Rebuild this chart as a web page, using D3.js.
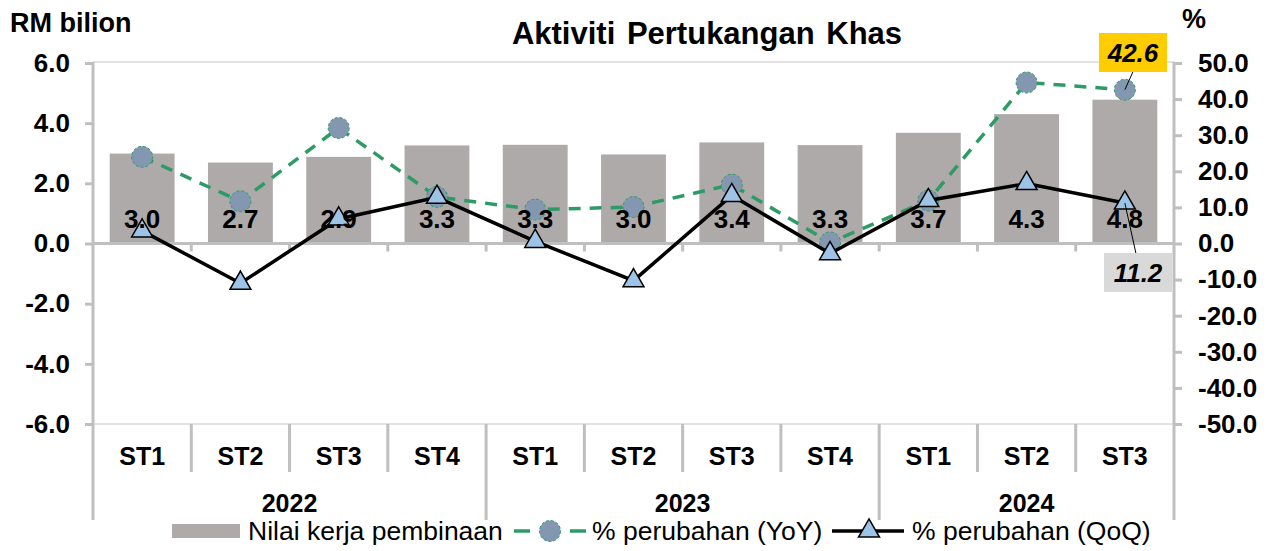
<!DOCTYPE html>
<html>
<head>
<meta charset="utf-8">
<script src="https://cdn.jsdelivr.net/npm/d3@7"></script>
<style>
  body { margin: 0; background: #fff; }
  svg { font-family: "Liberation Sans", Arial, sans-serif; }
</style>
</head>
<body>
<script>
// chart data
const quarters = ["ST1", "ST2", "ST3", "ST4", "ST1", "ST2", "ST3", "ST4", "ST1", "ST2", "ST3"];
const years = ["2022", "2023", "2024"];
const quartersPerYear = [4, 4, 3];
const nilai = [2.99, 2.69, 2.88, 3.26, 3.28, 2.96, 3.36, 3.27, 3.68, 4.3, 4.78];
const yoy = [24.0, 11.7, 32.0, 12.9, 9.4, 10.1, 16.3, 0.3, 11.9, 44.6, 42.6];
const qoq = [3.5, -11.0, 6.8, 12.8, 0.6, -10.3, 13.3, -2.8, 11.9, 16.6, 11.2];
const leftTicks = [-6, -4, -2, 0, 2, 4, 6];
const rightTicks = [-50, -40, -30, -20, -10, 0, 10, 20, 30, 40, 50];

const W = 1277, H = 551;
const plot = { left: 93, right: 1174, top: 63, bottom: 424 };
const axisGrey = "#bfbfbf";

const svg = d3.select("body").append("svg")
    .attr("width", W)
    .attr("height", H);

const x = d3.scaleBand()
    .domain(d3.range(quarters.length))
    .range([plot.left, plot.right]);

const yL = d3.scaleLinear().domain([-6, 6]).range([plot.bottom, plot.top]);
const yR = d3.scaleLinear().domain([-50, 50]).range([plot.bottom, plot.top]);

const cx = i => x(i) + x.bandwidth() / 2;
const barW = x.bandwidth() * 0.66;

// plot frame
svg.append("rect")
    .attr("x", plot.left)
    .attr("y", plot.top - 1)
    .attr("width", plot.right - plot.left)
    .attr("height", plot.bottom - plot.top + 1)
    .attr("fill", "none")
    .attr("stroke", "#d9d9d9")
    .attr("stroke-width", 1.5);

// bars
svg.selectAll(".bar")
    .data(nilai)
    .enter().append("rect")
    .attr("class", "bar")
    .attr("x", (d, i) => cx(i) - barW / 2)
    .attr("y", d => yL(d))
    .attr("width", barW)
    .attr("height", d => yL(0) - yL(d))
    .attr("fill", "#aeaaaa");

// zero line with small ticks between categories
svg.append("line")
    .attr("x1", plot.left).attr("x2", plot.right)
    .attr("y1", yL(0)).attr("y2", yL(0))
    .attr("stroke", axisGrey).attr("stroke-width", 3);

svg.selectAll(".zt")
    .data(d3.range(1, quarters.length))
    .enter().append("line")
    .attr("x1", d => x(d)).attr("x2", d => x(d))
    .attr("y1", yL(0)).attr("y2", yL(0) + 8)
    .attr("stroke", axisGrey).attr("stroke-width", 3);

// left axis
const gL = svg.append("g")
    .attr("transform", `translate(${plot.left},0)`)
    .call(d3.axisLeft(yL).tickValues(leftTicks).tickFormat(d => d.toFixed(1)).tickSize(8).tickPadding(15));

// right axis
const gR = svg.append("g")
    .attr("transform", `translate(${plot.right},0)`)
    .call(d3.axisRight(yR).tickValues(rightTicks).tickFormat(d => d.toFixed(1)).tickSize(8).tickPadding(16));

[gL, gR].forEach(g => {
    g.select(".domain").remove();
    g.selectAll(".tick line").attr("stroke", axisGrey).attr("stroke-width", 3);
    g.selectAll(".tick text")
        .attr("fill", "#000")
        .style("font-size", "26px")
        .style("font-weight", "bold");
});

// vertical axis lines extend down to the year row
svg.append("line")
    .attr("x1", plot.left).attr("x2", plot.left)
    .attr("y1", plot.top - 1).attr("y2", 520)
    .attr("stroke", axisGrey).attr("stroke-width", 3);
svg.append("line")
    .attr("x1", plot.right).attr("x2", plot.right)
    .attr("y1", plot.top - 1).attr("y2", 520)
    .attr("stroke", axisGrey).attr("stroke-width", 3);

// category separators
let yearStarts = [0];
quartersPerYear.forEach(n => yearStarts.push(yearStarts[yearStarts.length - 1] + n));

svg.selectAll(".sep")
    .data(d3.range(1, quarters.length))
    .enter().append("line")
    .attr("x1", d => x(d)).attr("x2", d => x(d))
    .attr("y1", plot.bottom)
    .attr("y2", d => yearStarts.includes(d) ? 520 : 472)
    .attr("stroke", axisGrey).attr("stroke-width", 3);

svg.selectAll(".qlab")
    .data(quarters)
    .enter().append("text")
    .attr("x", (d, i) => cx(i))
    .attr("y", 465)
    .attr("text-anchor", "middle")
    .style("font-size", "25px")
    .style("font-weight", "bold")
    .text(d => d);

svg.selectAll(".ylab")
    .data(years)
    .enter().append("text")
    .attr("x", (d, i) => (x(yearStarts[i]) + x(yearStarts[i + 1] - 1) + x.bandwidth()) / 2)
    .attr("y", 512)
    .attr("text-anchor", "middle")
    .style("font-size", "25px")
    .style("font-weight", "bold")
    .text(d => d);

// YoY line
const green = "#2e9b66";
const lineYoY = d3.line().x((d, i) => cx(i)).y(d => yR(d));
svg.append("path")
    .datum(yoy)
    .attr("d", lineYoY)
    .attr("fill", "none")
    .attr("stroke", green)
    .attr("stroke-width", 3.5)
    .attr("stroke-dasharray", "12,9");

svg.selectAll(".yoyDot")
    .data(yoy)
    .enter().append("circle")
    .attr("cx", (d, i) => cx(i))
    .attr("cy", d => yR(d))
    .attr("r", 10.5)
    .attr("fill", "#8497b0")
    .attr("stroke", green)
    .attr("stroke-width", 1)
    .attr("stroke-dasharray", "3,2");

// QoQ line
const lineQoQ = d3.line().x((d, i) => cx(i)).y(d => yR(d));
svg.append("path")
    .datum(qoq)
    .attr("d", lineQoQ)
    .attr("fill", "none")
    .attr("stroke", "#000")
    .attr("stroke-width", 3.5);

const tri = d3.symbol().type(d3.symbolTriangle).size(190);
svg.selectAll(".qoqTri")
    .data(qoq)
    .enter().append("path")
    .attr("d", tri)
    .attr("transform", (d, i) => `translate(${cx(i)},${yR(d)})`)
    .attr("fill", "#9dc3e6")
    .attr("stroke", "#000")
    .attr("stroke-width", 1.5);

// bar value labels
svg.selectAll(".vlab")
    .data(nilai)
    .enter().append("text")
    .attr("x", (d, i) => cx(i))
    .attr("y", yL(0) - 16)
    .attr("text-anchor", "middle")
    .style("font-size", "26px")
    .style("font-weight", "bold")
    .text(d => d.toFixed(1));

// callouts for latest values
const last = quarters.length - 1;
svg.append("line")
    .attr("x1", cx(last)).attr("y1", yR(yoy[last]))
    .attr("x2", cx(last) + 8).attr("y2", 72)
    .attr("stroke", "#000").attr("stroke-width", 1);
svg.append("rect")
    .attr("x", 1099).attr("y", 33).attr("width", 68).attr("height", 39)
    .attr("fill", "#ffcc00");
svg.append("text")
    .attr("x", 1133).attr("y", 62)
    .attr("text-anchor", "middle")
    .style("font-size", "26px")
    .style("font-weight", "bold")
    .style("font-style", "italic")
    .text(yoy[last].toFixed(1));

svg.append("line")
    .attr("x1", cx(last)).attr("y1", yR(qoq[last]))
    .attr("x2", cx(last) + 11).attr("y2", 253)
    .attr("stroke", "#000").attr("stroke-width", 1);
svg.append("rect")
    .attr("x", 1104).attr("y", 253).attr("width", 68).attr("height", 39)
    .attr("fill", "#d9d9d9");
svg.append("text")
    .attr("x", 1138).attr("y", 282)
    .attr("text-anchor", "middle")
    .style("font-size", "26px")
    .style("font-weight", "bold")
    .style("font-style", "italic")
    .text(qoq[last].toFixed(1));

// titles
svg.append("text")
    .attr("x", 707).attr("y", 44)
    .attr("text-anchor", "middle")
    .style("font-size", "31px")
    .style("font-weight", "bold")
    .style("word-spacing", "3px")
    .text("Aktiviti Pertukangan Khas");

svg.append("text")
    .attr("x", 10).attr("y", 32)
    .style("font-size", "27px")
    .style("font-weight", "bold")
    .text("RM bilion");

svg.append("text")
    .attr("x", 1182).attr("y", 28)
    .style("font-size", "27px")
    .style("font-weight", "bold")
    .text("%");

// legend
const lg = svg.append("g");
const ly = 531;
lg.append("rect")
    .attr("x", 172).attr("y", ly - 7).attr("width", 68).attr("height", 14)
    .attr("fill", "#aeaaaa");
lg.append("text")
    .attr("x", 248).attr("y", ly + 9)
    .style("font-size", "26.5px")
    .text("Nilai kerja pembinaan");

lg.append("line")
    .attr("x1", 514).attr("x2", 586)
    .attr("y1", ly).attr("y2", ly)
    .attr("stroke", green).attr("stroke-width", 3.5)
    .attr("stroke-dasharray", "16,40");
lg.append("circle")
    .attr("cx", 550).attr("cy", ly).attr("r", 10.5)
    .attr("fill", "#8497b0")
    .attr("stroke", green).attr("stroke-width", 1).attr("stroke-dasharray", "3,2");
lg.append("text")
    .attr("x", 592).attr("y", ly + 9)
    .style("font-size", "26.5px")
    .text("% perubahan (YoY)");

lg.append("line")
    .attr("x1", 832).attr("x2", 904)
    .attr("y1", ly).attr("y2", ly)
    .attr("stroke", "#000").attr("stroke-width", 3.5);
lg.append("path")
    .attr("d", tri)
    .attr("transform", `translate(869,${ly})`)
    .attr("fill", "#9dc3e6")
    .attr("stroke", "#000").attr("stroke-width", 1.5);
lg.append("text")
    .attr("x", 912).attr("y", ly + 9)
    .style("font-size", "26.5px")
    .text("% perubahan (QoQ)");
</script>
</body>
</html>
